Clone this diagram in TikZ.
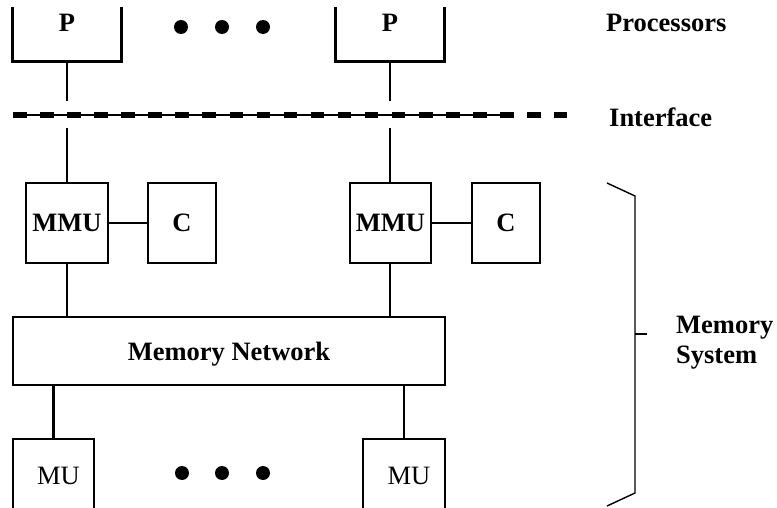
\documentclass[tikz,border=0pt]{standalone}
\usepackage{fontspec}
\setmainfont{Liberation Serif}
\begin{document}
\begin{tikzpicture}[x=1pt,y=-1pt,
  box/.style={draw,line width=2.7pt,inner sep=0pt,font=\fontsize{26.5}{30}\selectfont\bfseries,text depth=0pt},
  conn/.style={line width=2.7pt},
  lbl/.style={inner sep=0pt,font=\fontsize{26.5}{30}\selectfont\bfseries},
  dotn/.style={circle,fill=black,inner sep=0pt,minimum size=14pt}]
\useasboundingbox (0,0) rectangle (777,508);
% processors
\node[minimum width=108pt,minimum height=54pt,inner sep=0pt] (p1) at (67,34) {};
\node[minimum width=108pt,minimum height=54pt,inner sep=0pt] (p2) at (390,34) {};
\draw[conn] (p1.north west) -- (p1.south west) -- (p1.south east) -- (p1.north east);
\draw[conn] (p2.north west) -- (p2.south west) -- (p2.south east) -- (p2.north east);
\node[lbl,anchor=base] (p1t) at (67,32) {P};
\node[lbl,anchor=base] (p2t) at (390,32) {P};
\node[dotn] (d1) at (181,27) {};
\node[dotn] (d2) at (222,27) {};
\node[dotn] (d3) at (263,27) {};
\node[lbl,anchor=base west] (proc) at (606,32) {Processors};
% interface
\coordinate (ia1) at (67,101);
\coordinate (ib1) at (67,128);
\coordinate (ia2) at (390,101);
\coordinate (ib2) at (390,128);
\coordinate (ifl) at (13,115);
\coordinate (ifr) at (567,115);
\coordinate (ift) at (513,115);
\draw[line width=1.2pt] (ifl) -- (ift);
\draw[line width=5.5pt,dash pattern=on 13.5pt off 13.57pt] (ifl) -- (ifr);
\node[lbl,anchor=base west] (intf) at (609,127) {Interface};
% MMU and caches
\node[box,minimum width=82pt,minimum height=80pt] (mmu1) at (67,223) {MMU};
\node[box,minimum width=68pt,minimum height=80pt] (c1) at (182,223) {C};
\node[box,minimum width=81pt,minimum height=80pt] (mmu2) at (390.5,223) {MMU};
\node[box,minimum width=68pt,minimum height=80pt] (c2) at (506,223) {C};
\draw[conn] (p1.south) -- (ia1);
\draw[conn] (p2.south) -- (ia2);
\draw[conn] (ib1) -- (mmu1.north);
\draw[conn] (ib2) -- (mmu2.north -| ib2);
\draw[conn] (mmu1.east) -- (c1.west);
\draw[conn] (mmu2.east) -- (c2.west);
% network
\node[box,minimum width=432pt,minimum height=68pt] (net) at (229,351) {Memory Network};
\draw[conn] (mmu1.south) -- (mmu1.south |- net.north);
\draw[conn] (ib2 |- mmu2.south) -- (ib2 |- net.north);
% memory units
\node[draw,line width=2.7pt,minimum width=81pt,minimum height=80pt] (mu1) at (53.5,479) {};
\node[draw,line width=2.7pt,minimum width=82pt,minimum height=80pt] (mu2) at (404,479) {};
\node[lbl,font=\fontsize{26.5}{30}\selectfont,anchor=base] (mu1t) at (58.5,484) {MU};
\node[lbl,font=\fontsize{26.5}{30}\selectfont,anchor=base] (mu2t) at (409,484) {MU};
\draw[conn] (mu1.north |- net.south) -- (mu1.north);
\draw[conn] (mu2.north |- net.south) -- (mu2.north);
\node[dotn] (e1) at (182,473) {};
\node[dotn] (e2) at (222,473) {};
\node[dotn] (e3) at (263,473) {};
% brace
\coordinate (bt) at (607,183);
\coordinate (bt2) at (635,196);
\coordinate (bm) at (635,334);
\coordinate (bm2) at (647,334);
\coordinate (bb2) at (635,493);
\coordinate (bb) at (607,506);
\draw[line width=1.4pt] (bt) -- (bt2) -- (bb2) -- (bb);
\draw[line width=1.4pt] (bm) -- (bm2);
\node[lbl,anchor=base west,align=left] (ms) at (676,363) {Memory\\System};
\end{tikzpicture}
\end{document}
